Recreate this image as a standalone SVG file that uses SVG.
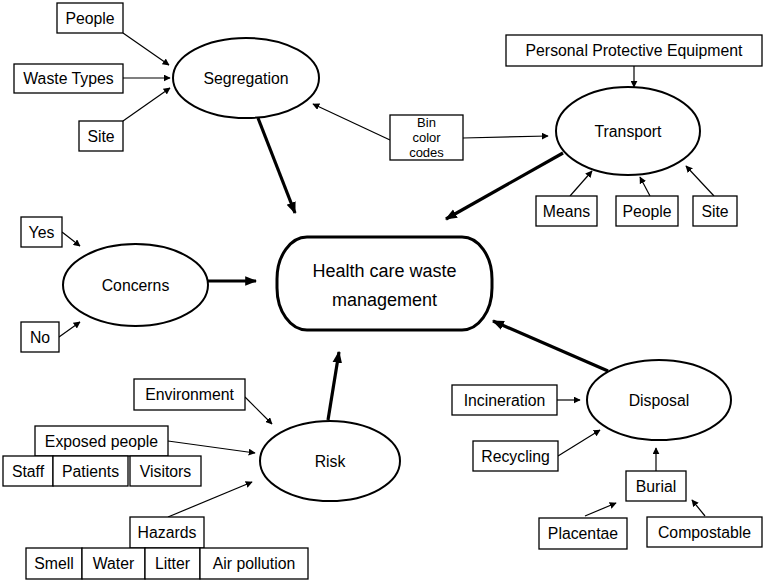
<svg xmlns="http://www.w3.org/2000/svg" width="765" height="582" viewBox="0 0 765 582">
<style>
text{font-family:"Liberation Sans","Noto Sans",sans-serif;font-size:15.8px;fill:#000;text-anchor:middle;dominant-baseline:central}
.b{fill:#fff;stroke:#000;stroke-width:1.3}
.e{fill:#fff;stroke:#000;stroke-width:2}
.thin{stroke:#000;stroke-width:1.2;fill:none;marker-end:url(#a)}
.thick{stroke:#000;stroke-width:3.2;fill:none;marker-end:url(#A)}
.sm{font-size:13px}
</style>
<defs>
<marker id="a" viewBox="0 0 10 10" refX="9" refY="5" markerWidth="7" markerHeight="7" markerUnits="userSpaceOnUse" orient="auto"><path d="M0,0L10,5L0,10z" fill="#000"/></marker>
<marker id="A" viewBox="0 0 10 10" refX="9" refY="5" markerWidth="12" markerHeight="12" markerUnits="userSpaceOnUse" orient="auto"><path d="M0,1L10,5L0,9z" fill="#000"/></marker>
</defs>
<rect width="765" height="582" fill="#fff"/>
<g id="connectors">
<line class="thin" x1="123" y1="33" x2="169" y2="65"/>
<line class="thin" x1="123" y1="78" x2="170" y2="78"/>
<line class="thin" x1="123" y1="121" x2="170" y2="88"/>
<line class="thick" x1="258" y1="118" x2="295" y2="213"/>
<line class="thin" x1="390" y1="140" x2="313" y2="104"/>
<line class="thin" x1="463" y1="138" x2="548" y2="136"/>
<line class="thin" x1="634" y1="66" x2="634" y2="87"/>
<line class="thin" x1="570" y1="196" x2="592" y2="171"/>
<line class="thin" x1="650" y1="196" x2="640" y2="177"/>
<line class="thin" x1="714" y1="196" x2="686" y2="166"/>
<line class="thick" x1="563" y1="153" x2="446" y2="219"/>
<line class="thin" x1="62" y1="232" x2="80" y2="246"/>
<line class="thin" x1="59" y1="337" x2="80" y2="322"/>
<line class="thick" x1="208" y1="281" x2="256" y2="281"/>
<line class="thin" x1="245" y1="397" x2="272" y2="424"/>
<line class="thin" x1="168" y1="441" x2="255" y2="453"/>
<line class="thin" x1="168" y1="517" x2="252" y2="482"/>
<line class="thick" x1="328" y1="420" x2="339" y2="352"/>
<line class="thick" x1="608" y1="371" x2="493" y2="321"/>
<line class="thin" x1="557" y1="400" x2="580" y2="400"/>
<line class="thin" x1="558" y1="456" x2="600" y2="430"/>
<line class="thin" x1="656" y1="471" x2="656" y2="448"/>
<line class="thin" x1="585" y1="516" x2="616" y2="503"/>
<line class="thin" x1="705" y1="516" x2="692" y2="500"/>
</g>
<g id="main"><rect x="277" y="237" width="215" height="93" rx="30" ry="42" fill="#fff" stroke="#000" stroke-width="3"/><text x="384.5" y="271" style="font-size:18px">Health care waste</text><text x="384.5" y="300" style="font-size:18px">management</text></g>
<g id="segregation"><ellipse class="e" cx="246" cy="78" rx="73" ry="40"/><text x="246" y="78">Segregation</text></g>
<g id="seg-people"><rect class="b" x="57" y="3" width="66" height="30"/><text x="90" y="18">People</text></g>
<g id="seg-waste"><rect class="b" x="14" y="64" width="109" height="29"/><text x="68.5" y="78.5">Waste Types</text></g>
<g id="seg-site"><rect class="b" x="79" y="121" width="44" height="30"/><text x="101" y="136">Site</text></g>
<g id="bin"><rect class="b" x="390" y="115" width="73" height="45"/><text class="sm" x="426.5" y="122.5">Bin</text><text class="sm" x="426.5" y="137.5">color</text><text class="sm" x="426.5" y="152.5">codes</text></g>
<g id="transport"><ellipse class="e" cx="628" cy="131" rx="72" ry="44"/><text x="628" y="131">Transport</text></g>
<g id="ppe"><rect class="b" x="506" y="35" width="256" height="31"/><text x="634" y="50.5">Personal Protective Equipment</text></g>
<g id="tr-means"><rect class="b" x="536" y="196" width="61" height="30"/><text x="566.5" y="211">Means</text></g>
<g id="tr-people"><rect class="b" x="616" y="196" width="62" height="30"/><text x="647" y="211">People</text></g>
<g id="tr-site"><rect class="b" x="693" y="196" width="44" height="30"/><text x="715" y="211">Site</text></g>
<g id="concerns"><ellipse class="e" cx="135.5" cy="285" rx="72.5" ry="41"/><text x="135.5" y="285">Concerns</text></g>
<g id="yes"><rect class="b" x="21" y="217" width="41" height="30"/><text x="41.5" y="232">Yes</text></g>
<g id="no"><rect class="b" x="21" y="322" width="38" height="30"/><text x="40" y="337">No</text></g>
<g id="risk"><ellipse class="e" cx="330" cy="461" rx="70" ry="40"/><text x="330" y="461">Risk</text></g>
<g id="environment"><rect class="b" x="134" y="379" width="111" height="31"/><text x="189.5" y="394.5">Environment</text></g>
<g id="exposed"><rect class="b" x="35" y="426" width="133" height="30"/><text x="101.5" y="441">Exposed people</text></g>
<g id="staff"><rect class="b" x="3" y="456" width="50" height="30"/><text x="28" y="471">Staff</text></g>
<g id="patients"><rect class="b" x="53" y="456" width="75" height="30"/><text x="90.5" y="471">Patients</text></g>
<g id="visitors"><rect class="b" x="130" y="456" width="71" height="30"/><text x="165.5" y="471">Visitors</text></g>
<g id="hazards"><rect class="b" x="130" y="517" width="74" height="31"/><text x="167" y="532.5">Hazards</text></g>
<g id="smell"><rect class="b" x="26" y="548" width="56" height="31"/><text x="54" y="563.5">Smell</text></g>
<g id="water"><rect class="b" x="82" y="548" width="63" height="31"/><text x="113.5" y="563.5">Water</text></g>
<g id="litter"><rect class="b" x="145" y="548" width="55" height="31"/><text x="172.5" y="563.5">Litter</text></g>
<g id="air"><rect class="b" x="200" y="548" width="108" height="31"/><text x="254" y="563.5">Air pollution</text></g>
<g id="disposal"><ellipse class="e" cx="659" cy="400" rx="72" ry="40"/><text x="659" y="400">Disposal</text></g>
<g id="incineration"><rect class="b" x="452" y="385" width="105" height="30"/><text x="504.5" y="400">Incineration</text></g>
<g id="recycling"><rect class="b" x="473" y="441" width="85" height="30"/><text x="515.5" y="456">Recycling</text></g>
<g id="burial"><rect class="b" x="626" y="471" width="60" height="30"/><text x="656" y="486">Burial</text></g>
<g id="placentae"><rect class="b" x="539" y="518" width="88" height="31"/><text x="583" y="533.5">Placentae</text></g>
<g id="compostable"><rect class="b" x="647" y="517" width="115" height="30"/><text x="704.5" y="532">Compostable</text></g>
</svg>
